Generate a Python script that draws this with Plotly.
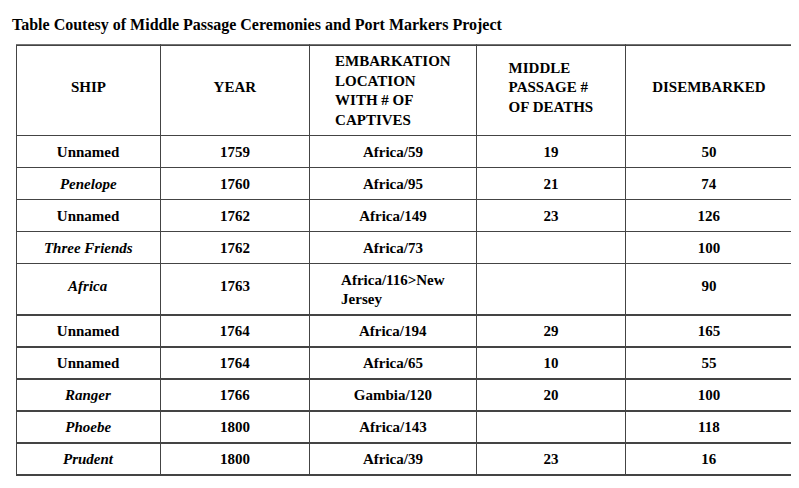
import plotly.graph_objects as go

title = "Table Coutesy of Middle Passage Ceremonies and Port Markers Project"
headers = ["<br><br>SHIP", "<br><br>YEAR", "EMBARKATION<br>LOCATION<br>WITH # OF<br>CAPTIVES", "<br>MIDDLE<br>PASSAGE #<br>OF DEATHS", "<br><br>DISEMBARKED"]
ships = ["Unnamed", "<i>Penelope</i>", "Unnamed", "<i>Three Friends</i>", "<br><i>Africa</i>", "Unnamed", "Unnamed", "<i>Ranger</i>", "<i>Phoebe</i>", "<i>Prudent</i>"]
years = ["1759", "1760", "1762", "1762", "<br>1763", "1764", "1764", "1766", "1800", "1800"]
embark = ["Africa/59", "Africa/95", "Africa/149", "Africa/73", "Africa/116>New<br>Jersey", "Africa/194", "Africa/65", "Gambia/120", "Africa/143", "Africa/39"]
deaths = ["19", "21", "23", "", "", "29", "10", "20", "", "23"]
disemb = ["50", "74", "126", "100", "<br>90", "165", "55", "100", "118", "16"]

def b(lst):
    return ["<b>%s</b>" % s if s else "" for s in lst]

FONT = "Liberation Serif, Times New Roman, serif"
fig = go.Figure(go.Table(
    domain=dict(x=[0.008, 0.985], y=[0.0, 0.935]),
    columnwidth=[145, 150, 168, 150, 168],
    header=dict(values=b(headers), height=22, align="center",
                fill_color="white", line=dict(color="#444", width=1.5),
                font=dict(family=FONT, size=15, color="black")),
    cells=dict(values=[b(ships), b(years), b(embark), b(deaths), b(disemb)],
               height=22, align="center", fill_color="white",
               line=dict(color="#444", width=1.5),
               font=dict(family=FONT, size=15, color="black")),
))
fig.add_annotation(text="<b>%s</b>" % title, x=0.0, y=1.0, xref="paper", yref="paper",
                   xanchor="left", yanchor="top", showarrow=False,
                   font=dict(family=FONT, size=16, color="black"))
fig.update_layout(width=799, height=488, margin=dict(l=2, r=2, t=6, b=2),
                  paper_bgcolor="white", plot_bgcolor="white")
fig.write_html("out.html")
